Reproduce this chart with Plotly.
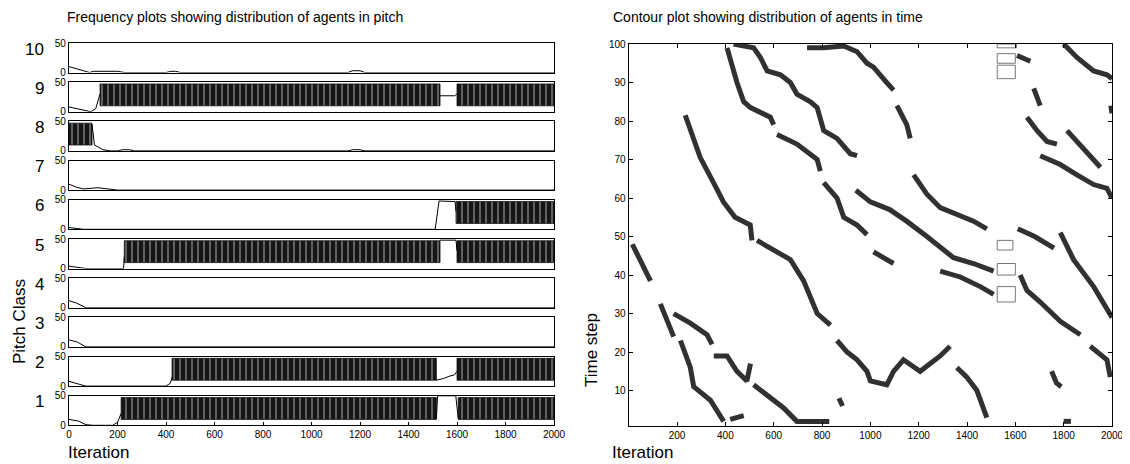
import plotly.graph_objects as go

# page shows the figure with an 8 px body margin; positions below are window pixels
OFF = 8
FW, FH = 1122, 456
FONT = "Liberation Sans"

def px(x):
    return (x - OFF) / FW

def py(y):
    return 1 - (y - OFF) / FH

# ---------------- Left panel data (pitch class frequency, 0..50) ----------------
pitch_classes = [10, 9, 8, 7, 6, 5, 4, 3, 2, 1]
x_ticks = [0, 200, 400, 600, 800, 1000, 1200, 1400, 1600, 1800, 2000]
freq_ticks = [0, 50]

# thin line segments (iteration, count); None separates segments
freq_lines = {
    10: [(0, 10), (35, 6), (70, 1), (85, 0), (100, 2), (150, 2), (165, 1), (185, 2), (200, 2), (230, 0),
         (400, 0), (420, 2), (440, 2), (460, 0), (520, 0), (530, 1), (600, 1), (610, 0), (1150, 0),
         (1170, 3), (1200, 3), (1220, 0), (1380, 0), (1400, 1), (1440, 1), (1460, 0), (2000, 0)],
    9: [(0, 8), (50, 4), (90, 0), (110, 5), (128, 30), None, (1530, 27), (1590, 27), (1600, 30)],
    8: [(95, 45), (105, 10), (140, 2), (170, 0), (200, 0), (220, 2), (250, 2), (270, 0), (1150, 0),
        (1170, 2), (1200, 2), (1220, 0), (2000, 0)],
    7: [(0, 10), (30, 5), (60, 2), (80, 3), (120, 4), (160, 2), (200, 0), (2000, 0)],
    6: [(0, 3), (40, 1), (60, 0), (1510, 0), (1526, 48), (1592, 47), (1596, 30)],
    5: [(0, 4), (50, 2), (70, 0), (225, 0), (228, 20), None, (1530, 48), (1596, 48), (1600, 30)],
    4: [(0, 12), (30, 8), (70, 0), (400, 0), (420, 1), (460, 1), (480, 0), (2000, 0)],
    3: [(0, 12), (35, 8), (70, 0), (1530, 0), (1545, 1), (1560, 0), (2000, 0)],
    2: [(0, 8), (40, 3), (70, 0), (400, 0), (418, 5), (425, 15), None,
        (1515, 10), (1545, 13), (1570, 17), (1590, 19), (1600, 25)],
    1: [(0, 10), (40, 7), (70, 1), (100, 0), (180, 0), (200, 5), (215, 20), None,
        (1515, 12), (1520, 50), (1595, 50), (1605, 12)],
}

# dense oscillating regions (start iteration, end iteration)
freq_bands = {
    10: [], 9: [(128, 1530), (1600, 2000)], 8: [(0, 95)], 7: [], 6: [(1596, 2000)],
    5: [(228, 1530), (1600, 2000)], 4: [], 3: [], 2: [(425, 1515), (1600, 2000)],
    1: [(215, 1515), (1605, 2000)],
}
band_low = 10
band_high = 47

# ---------------- Right panel data (agent streaks: iteration, time step) ----------------
streaks = [
    [(15, 48), (48, 44), (90, 38.5)],
    [(131, 32.5), (172, 26), (186, 24)],
    [(214, 23), (255, 16), (269, 11), (297, 9.5), (338, 7.5), (393, 2)],
    [(186, 30), (255, 27.5), (324, 24.5), (345, 22)],
    [(352, 19), (407, 19), (448, 15), (489, 12.5), (504, 17)],
    [(517, 11.5), (586, 8), (641, 5.5), (696, 2), (830, 2)],
    [(420, 2.5), (476, 3.5)],
    [(531, 49), (586, 47), (669, 44), (724, 38.5), (780, 30), (835, 27)],
    [(862, 23), (904, 20), (945, 18), (986, 15), (1000, 12.5), (1068, 11.5), (1096, 15),
     (1137, 18), (1206, 15), (1289, 19), (1330, 21.5)],
    [(1358, 16), (1399, 13.5), (1441, 10), (1468, 5.5), (1482, 3)],
    [(234, 81.5), (296, 70.5), (351, 64), (392, 59), (440, 55), (503, 53), (510, 49)],
    [(407, 99), (434, 93), (448, 90), (476, 85), (504, 83.5), (586, 81), (600, 79)],
    [(614, 76.5), (696, 74), (780, 70), (793, 67)],
    [(807, 64), (862, 60), (890, 55), (945, 53), (986, 50.5)],
    [(434, 100), (517, 99), (545, 96.5), (573, 93), (628, 92), (669, 90), (696, 87), (752, 85),
     (780, 83.5), (807, 77.5), (862, 75.5), (917, 71.5), (945, 71)],
    [(738, 99), (807, 99), (890, 99.5), (945, 98), (986, 95), (1013, 94), (1068, 90), (1096, 88)],
    [(1110, 84), (1151, 79), (1165, 75.5)],
    [(940, 62), (1000, 59), (1080, 57), (1150, 54), (1234, 50), (1290, 47), (1344, 44.5),
     (1427, 43), (1510, 41)],
    [(1013, 46), (1096, 43)],
    [(1179, 66), (1234, 61), (1289, 57.5), (1372, 55.5), (1427, 54), (1482, 52)],
    [(1289, 41), (1372, 39.5), (1455, 37), (1510, 35)],
    [(1620, 40), (1648, 36), (1703, 33), (1786, 28), (1869, 24.5)],
    [(1610, 52), (1680, 50), (1760, 47)],
    [(1786, 51), (1841, 44), (1924, 37), (1979, 31), (2000, 29)],
    [(1910, 21.5), (1979, 18), (1993, 13.5)],
    [(1800, 100), (1855, 96.5), (1924, 93), (1979, 92), (2000, 91)],
    [(1607, 97), (1662, 95.5)],
    [(1676, 88.5), (1703, 84)],
    [(1648, 81), (1690, 77.5), (1731, 74.7), (1772, 74)],
    [(1703, 71), (1786, 68.7), (1855, 66), (1924, 63.5), (1979, 62.5), (2000, 60)],
    [(1814, 77.5), (1896, 72), (1952, 68)],
    [(1995, 84), (2000, 82)],
    [(870, 8), (885, 6)],
    [(1750, 15), (1770, 12), (1790, 11)],
    [(1800, 2), (1830, 2)],
]
# grey outline boxes (iteration from, iteration to, time from, time to)
boxes = [
    (1525, 1605, 99, 100), (1525, 1600, 95, 97.5), (1525, 1600, 91, 94.5),
    (1525, 1590, 46.5, 49), (1525, 1600, 40, 43), (1525, 1600, 33, 37),
]
time_ticks = [10, 20, 30, 40, 50, 60, 70, 80, 90, 100]

fig = go.Figure()

def ax(i):
    return "" if i == 1 else str(i)

left_x = [px(69), px(554)]
for k in pitch_classes:
    top = 43 + (10 - k) * 39.2
    bot = top + 29.5
    xa, ya = "x" + ax(k), "y" + ax(k)
    for (s, e) in freq_bands[k]:
        fig.add_trace(go.Scatter(
            x=[s, e, e, s, s], y=[band_low, band_low, band_high, band_high, band_low],
            xaxis=xa, yaxis=ya, mode="lines", line=dict(width=0.8, color="#111"),
            fill="toself", fillcolor="#161616",
            fillpattern=dict(shape="|", fgcolor="#bdbdbd", bgcolor="#161616", size=6,
                             solidity=0.15, fillmode="replace"),
            hoverinfo="skip", showlegend=False))
    pts = freq_lines[k]
    xs = [p[0] if p else None for p in pts]
    ys = [p[1] if p else None for p in pts]
    fig.add_trace(go.Scatter(x=xs, y=ys, xaxis=xa, yaxis=ya, mode="lines",
                             line=dict(color="black", width=1), showlegend=False,
                             connectgaps=False))
    fig.layout["xaxis" + ax(k)] = dict(
        domain=left_x, anchor=ya, range=[0, 2000], showgrid=False, zeroline=False,
        automargin=False,
        showline=True, mirror=True, linecolor="black", linewidth=1.2,
        tickvals=x_ticks, showticklabels=(k == 1), ticks="inside" if k == 1 else "",
        ticklen=3, tickcolor="black", tickfont=dict(size=10, family=FONT, color="black"))
    fig.layout["yaxis" + ax(k)] = dict(
        domain=[py(bot), py(top)], anchor=xa, range=[0, 50], showgrid=False,
        automargin=False,
        zeroline=False, showline=True, mirror=True, linecolor="black", linewidth=1.2,
        tickvals=freq_ticks, ticks="", tickfont=dict(size=10, family=FONT, color="black"))
    fig.add_annotation(text=str(k), xref="paper", yref="paper", x=px(46), y=py(top + 6),
                       xanchor="right", yanchor="middle", showarrow=False,
                       font=dict(size=17, family=FONT, color="black"))

for st in streaks:
    fig.add_trace(go.Scatter(x=[p[0] for p in st], y=[p[1] for p in st], xaxis="x11", yaxis="y11",
                             mode="lines", line=dict(color="#202020", width=5),
                             opacity=0.92, showlegend=False))
bx, by = [], []
for (x0, x1, y0, y1) in boxes:
    bx += [x0, x1, x1, x0, x0, None]
    by += [y0, y0, y1, y1, y0, None]
fig.add_trace(go.Scatter(x=bx, y=by, xaxis="x11", yaxis="y11", mode="lines",
                         line=dict(color="#777", width=1), showlegend=False))

fig.layout["xaxis11"] = dict(
    domain=[px(628.7), px(1112)], anchor="y11", range=[0, 2000], showgrid=False, zeroline=False,
    automargin=False,
    showline=True, mirror="ticks", linecolor="black", linewidth=1.2, tickvals=x_ticks[1:],
    ticks="inside", ticklen=4, tickcolor="black", tickfont=dict(size=10, family=FONT, color="black"))
fig.layout["yaxis11"] = dict(
    domain=[py(426), py(44)], anchor="x11", range=[0.8, 100], showgrid=False,
    automargin=False,
    zeroline=False, showline=True, mirror="ticks", linecolor="black", linewidth=1.2,
    tickvals=time_ticks, ticks="inside", ticklen=4, tickcolor="black",
    tickfont=dict(size=10, family=FONT, color="black"))

def label(text, x, y, size, angle=0, xanchor="left"):
    fig.add_annotation(text=text, xref="paper", yref="paper", x=px(x), y=py(y),
                       xanchor=xanchor, yanchor="middle", showarrow=False, textangle=angle,
                       font=dict(size=size, family=FONT, color="black"))

label("Frequency plots showing distribution of agents in pitch", 65, 17, 14)
label("Contour plot showing distribution of agents in time", 611, 17, 14)
label("Pitch Class", 19, 322, 17, angle=-90, xanchor="center")
label("Time step", 591, 350, 17, angle=-90, xanchor="center")
label("Iteration", 66, 452, 17)
label("Iteration", 610, 452, 17)

fig.update_layout(width=FW, height=FH, template="none",
                  margin=dict(l=0, r=0, t=0, b=0, pad=0, autoexpand=False),
                  paper_bgcolor="white", plot_bgcolor="white", showlegend=False)
fig.write_html("out.html")
